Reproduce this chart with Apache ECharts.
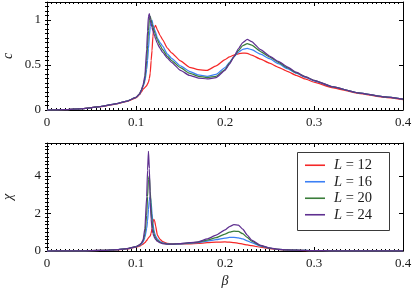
<!DOCTYPE html>
<html><head><meta charset="utf-8">
<script src="https://cdn.jsdelivr.net/npm/echarts@6/dist/echarts.min.js"></script>
<style>html,body{margin:0;padding:0;background:#fff}#c{width:415px;height:293px}</style>
</head><body><div id="c"></div>
<script>
const beta = [0, 0.02, 0.04, 0.06, 0.08, 0.09, 0.1, 0.104, 0.106, 0.108, 0.11, 0.112, 0.113, 0.114, 0.115, 0.116, 0.117, 0.118, 0.119, 0.12, 0.121, 0.122, 0.124, 0.127, 0.13, 0.135, 0.14, 0.15, 0.16, 0.17, 0.18, 0.19, 0.2, 0.205, 0.21, 0.215, 0.22, 0.225, 0.23, 0.24, 0.25, 0.26, 0.27, 0.28, 0.29, 0.3, 0.32, 0.35, 0.38, 0.4];
const seriesNames = ['L = 12', 'L = 16', 'L = 20', 'L = 24'];
const c12 = [0, 0.003, 0.015, 0.037, 0.072, 0.097, 0.135, 0.17, 0.2, 0.23, 0.25, 0.27, 0.29, 0.31, 0.35, 0.41, 0.55, 0.66, 0.82, 0.9, 0.925, 0.94, 0.89, 0.83, 0.78, 0.69, 0.635, 0.545, 0.475, 0.448, 0.44, 0.49, 0.56, 0.59, 0.61, 0.625, 0.632, 0.63, 0.61, 0.565, 0.52, 0.475, 0.43, 0.385, 0.345, 0.31, 0.25, 0.185, 0.14, 0.115];
const c16 = [0, 0.003, 0.015, 0.038, 0.075, 0.10, 0.14, 0.175, 0.215, 0.26, 0.32, 0.45, 0.55, 0.68, 0.82, 0.93, 0.99, 1.0, 0.95, 0.92, 0.89, 0.865, 0.80, 0.75, 0.71, 0.625, 0.575, 0.49, 0.43, 0.39, 0.375, 0.395, 0.47, 0.53, 0.59, 0.64, 0.675, 0.685, 0.67, 0.62, 0.57, 0.515, 0.46, 0.41, 0.365, 0.325, 0.26, 0.19, 0.145, 0.12];
const c20 = [0, 0.003, 0.015, 0.038, 0.075, 0.10, 0.14, 0.18, 0.22, 0.27, 0.35, 0.55, 0.72, 0.88, 1.0, 1.04, 1.0, 0.96, 0.92, 0.89, 0.86, 0.83, 0.78, 0.72, 0.67, 0.60, 0.55, 0.47, 0.41, 0.375, 0.36, 0.375, 0.45, 0.52, 0.59, 0.66, 0.715, 0.737, 0.72, 0.65, 0.59, 0.53, 0.47, 0.415, 0.37, 0.33, 0.26, 0.19, 0.145, 0.12];
const c24 = [0, 0.003, 0.015, 0.038, 0.075, 0.10, 0.14, 0.18, 0.22, 0.28, 0.38, 0.68, 0.88, 1.04, 1.07, 1.0, 0.96, 0.92, 0.88, 0.85, 0.82, 0.79, 0.74, 0.685, 0.64, 0.58, 0.53, 0.44, 0.385, 0.355, 0.345, 0.36, 0.44, 0.51, 0.59, 0.68, 0.75, 0.785, 0.76, 0.67, 0.60, 0.54, 0.48, 0.42, 0.37, 0.33, 0.26, 0.19, 0.145, 0.12];
const chi12 = [0, 0.002, 0.01, 0.028, 0.065, 0.11, 0.2, 0.26, 0.31, 0.37, 0.45, 0.56, 0.63, 0.7, 0.75, 0.8, 0.95, 1.2, 1.5, 1.68, 1.6, 1.35, 0.85, 0.62, 0.5, 0.41, 0.38, 0.37, 0.38, 0.41, 0.44, 0.47, 0.48, 0.47, 0.445, 0.41, 0.37, 0.32, 0.28, 0.2, 0.13, 0.08, 0.05, 0.035, 0.025, 0.02, 0.01, 0.005, 0.002, 0.001];
const chi16 = [0, 0.002, 0.01, 0.03, 0.07, 0.12, 0.22, 0.3, 0.37, 0.48, 0.72, 1.2, 1.6, 2.2, 2.75, 2.9, 2.6, 2.0, 1.5, 1.15, 0.95, 0.8, 0.64, 0.5, 0.43, 0.38, 0.36, 0.38, 0.41, 0.45, 0.52, 0.6, 0.69, 0.72, 0.73, 0.7, 0.64, 0.54, 0.44, 0.26, 0.15, 0.09, 0.06, 0.04, 0.03, 0.02, 0.01, 0.005, 0.002, 0.001];
const chi20 = [0, 0.002, 0.01, 0.03, 0.07, 0.12, 0.23, 0.32, 0.4, 0.55, 0.9, 1.9, 2.9, 3.8, 4.0, 3.2, 2.3, 1.6, 1.2, 0.95, 0.8, 0.7, 0.57, 0.46, 0.41, 0.37, 0.36, 0.39, 0.43, 0.47, 0.58, 0.71, 0.9, 1.0, 1.06, 1.04, 0.92, 0.72, 0.53, 0.28, 0.15, 0.09, 0.06, 0.04, 0.03, 0.02, 0.01, 0.005, 0.002, 0.001];
const chi24 = [0, 0.002, 0.01, 0.03, 0.07, 0.12, 0.23, 0.33, 0.42, 0.6, 1.2, 2.9, 4.3, 5.3, 4.4, 2.6, 1.7, 1.2, 0.95, 0.8, 0.7, 0.62, 0.52, 0.44, 0.39, 0.36, 0.36, 0.39, 0.44, 0.49, 0.64, 0.84, 1.12, 1.3, 1.4, 1.38, 1.16, 0.85, 0.58, 0.3, 0.16, 0.09, 0.06, 0.04, 0.03, 0.02, 0.01, 0.005, 0.002, 0.001];
const xTicks = [0, 0.1, 0.2, 0.3, 0.4];
const cTicks = [0, 0.5, 1];
const chiTicks = [0, 2, 4];

const colors = ['#f52828', '#3c80f5', '#3a7d3a', '#5f3090'];
const FONT = 'Liberation Serif';
const TXT = '#1a1a1a';

const chart = echarts.init(document.getElementById('c'), null, {renderer: 'canvas'});

function xAxes(grid) {
  const base = {
    type: 'value', gridIndex: grid, min: xTicks[0], max: xTicks[xTicks.length - 1],
    interval: xTicks[1] - xTicks[0],
    axisLine: {show: true, onZero: false, lineStyle: {color: '#000', width: 1}},
    axisTick: {show: true, inside: true, length: 4, lineStyle: {color: '#000', width: 1}},
    minorTick: {show: true, splitNumber: 20, length: 2, lineStyle: {color: '#000', width: 1}},
    splitLine: {show: false}, minorSplitLine: {show: false}
  };
  const bottom = Object.assign({}, base, {
    position: 'bottom',
    axisLabel: {show: true, margin: 6, fontFamily: FONT, fontSize: 13, color: TXT}
  });
  if (grid === 1) {
    Object.assign(bottom, {name: 'β', nameLocation: 'middle', nameGap: 23, nameMoveOverlap: false,
      nameTextStyle: {fontFamily: FONT, fontStyle: 'italic', fontSize: 14, color: TXT}});
  }
  const top = Object.assign({}, base, {position: 'top', axisLabel: {show: false}});
  return [bottom, top];
}

function yAxes(grid, maxV, ticks, minorStep) {
  const major = ticks[1] - ticks[0];
  const common = {type: 'value', gridIndex: grid, min: ticks[0], max: maxV,
    splitLine: {show: false}, minorTick: {show: false}};
  const leftMajor = Object.assign({}, common, {
    position: 'left', interval: major,
    axisLine: {show: true, onZero: false, lineStyle: {color: '#000', width: 1}},
    axisTick: {show: true, inside: true, length: 4, lineStyle: {color: '#000'}},
    axisLabel: {show: true, showMaxLabel: false, margin: 6, fontFamily: FONT, fontSize: 13, color: TXT}
  });
  const leftMinor = Object.assign({}, common, {
    position: 'left', interval: minorStep,
    axisLine: {show: false}, axisLabel: {show: false},
    axisTick: {show: true, inside: true, length: 2, lineStyle: {color: '#000'}}
  });
  const rightMajor = Object.assign({}, common, {
    position: 'right', interval: major,
    axisLine: {show: true, onZero: false, lineStyle: {color: '#000', width: 1}},
    axisTick: {show: true, inside: true, length: 4, lineStyle: {color: '#000'}},
    axisLabel: {show: false}
  });
  const rightMinor = Object.assign({}, common, {
    position: 'right', interval: minorStep,
    axisLine: {show: false}, axisLabel: {show: false},
    axisTick: {show: true, inside: true, length: 2, lineStyle: {color: '#000'}}
  });
  return [leftMajor, leftMinor, rightMajor, rightMinor];
}

const cData = [c12, c16, c20, c24];
const chiData = [chi12, chi16, chi20, chi24];
const series = [];
seriesNames.forEach((nm, i) => {
  series.push({
    name: nm, type: 'line', xAxisIndex: 0, yAxisIndex: 0,
    data: beta.map((b, k) => [b, cData[i][k]]),
    showSymbol: false, symbol: 'none', smooth: 0.15, smoothMonotone: 'x',
    lineStyle: {color: colors[i], width: 1.25}, itemStyle: {color: colors[i]}, z: 2 + i
  });
});
seriesNames.forEach((nm, i) => {
  series.push({
    name: nm, type: 'line', xAxisIndex: 2, yAxisIndex: 4,
    data: beta.map((b, k) => [b, chiData[i][k]]),
    showSymbol: false, symbol: 'none', smooth: 0.15, smoothMonotone: 'x',
    lineStyle: {color: colors[i], width: 1.25}, itemStyle: {color: colors[i]}, z: 2 + i
  });
});

const option = {
  animation: false,
  backgroundColor: '#fff',
  color: colors,
  grid: [
    {left: 47, right: 12, top: 2, height: 108, outerBoundsMode: 'none', containLabel: false},
    {left: 47, right: 12, top: 143, height: 108, outerBoundsMode: 'none', containLabel: false}
  ],
  xAxis: [].concat(xAxes(0), xAxes(1)),
  yAxis: [].concat(yAxes(0, 1.2, cTicks, 0.05), yAxes(1, 5.75, chiTicks, 0.2)),
  graphic: [
    {type: 'rect', z: 50, shape: {x: 297.5, y: 152.5, width: 92, height: 78},
     style: {fill: '#fff', stroke: '#3a3a3a', lineWidth: 1}},
    {type: 'text', x: 8, y: 56, rotation: Math.PI / 2,
     style: {text: 'c', fontFamily: FONT, fontStyle: 'italic', fontSize: 14, fill: TXT, align: 'center', verticalAlign: 'middle'}},
    {type: 'text', x: 8, y: 197, rotation: Math.PI / 2,
     style: {text: 'χ', fontFamily: FONT, fontStyle: 'italic', fontSize: 14, fill: TXT, align: 'center', verticalAlign: 'middle'}}
  ],
  legend: {
    z: 60, orient: 'vertical', left: 305, top: 157, padding: 0, itemGap: 0,
    itemWidth: 20, itemHeight: 1.6, icon: 'rect',
    data: seriesNames,
    formatter: n => '{i|L}{n|' + n.slice(1) + '}',
    textStyle: {
      lineHeight: 16.5, padding: [0, 0, 0, 4],
      rich: {
        i: {fontFamily: FONT, fontStyle: 'italic', fontSize: 14.5, color: TXT, lineHeight: 16.5},
        n: {fontFamily: FONT, fontSize: 14.5, color: TXT, lineHeight: 16.5}
      }
    }
  },
  series: series
};
chart.setOption(option);
</script>
</body></html>
